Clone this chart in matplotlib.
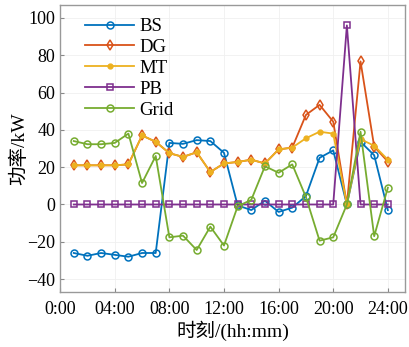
import matplotlib
matplotlib.use("Agg")
import matplotlib.pyplot as plt

hours = list(range(1, 25))
xtick_vals = [0, 4, 8, 12, 16, 20, 24]
xtick_labels = ["0:00", "04:00", "08:00", "12:00", "16:00", "20:00", "24:00"]
ytick_vals = [-40, -20, 0, 20, 40, 60, 80, 100]

BS = [-26, -27.5, -26, -27, -28, -26, -26, 33, 32.5, 34.5, 34, 27.7, -0.5, -3, 2, -4,
      -1.7, 4.5, 25, 29, 0, 33.6, 26.4, -3]
DG = [21, 21, 21, 21, 21.5, 37, 33.6, 27.5, 25.5, 28, 17.4, 22, 22.8, 24, 22, 29.5,
      30.5, 48, 53.4, 44.4, 0, 76.7, 31, 23]
MT = [21, 21, 21, 21, 21.5, 37, 33.6, 27.5, 25.5, 28, 17.4, 22, 22.8, 24, 22, 29.5,
      30.5, 35.5, 39, 38, 0, 35, 31.5, 24]
PB = [0] * 20 + [96] + [0] * 3
Grid = [34, 32.3, 32.3, 33, 38, 11.5, 26, -17.6, -16.7, -24.4, -11.9, -22, -1, 2.5,
        20.5, 17, 21.5, 4, -19.4, -17.6, 0, 39, -17, 9]

plt.rcParams['font.family'] = ['Liberation Serif', 'Noto Sans CJK SC']
plt.rcParams['axes.unicode_minus'] = True

fig = plt.figure(figsize=(4.09, 3.47), dpi=100)
ax = fig.add_axes([0.147, 0.158, 0.843, 0.828])

lw = 1.3
ax.plot(hours, BS, color='#0072BD', marker='o', ms=5, mfc='none', mew=1.1, lw=lw, label='BS')
ax.plot(hours, DG, color='#D95319', marker='d', ms=5.5, mfc='none', mew=1.1, lw=lw, label='DG')
ax.plot(hours, MT, color='#EDB120', marker='.', ms=7, lw=lw, label='MT')
ax.plot(hours, PB, color='#7E2F8E', marker='s', ms=4, mfc='none', mew=1.1, lw=lw, label='PB')
ax.plot(hours, Grid, color='#77AC30', marker='o', ms=5, mfc='none', mew=1.1, lw=lw, label='Grid')

ax.set_xlim(0, 25.25)
ax.set_ylim(-47, 107)
ax.set_xticks(xtick_vals)
ax.set_xticklabels(xtick_labels)
ax.set_yticks(ytick_vals)
ax.tick_params(direction='in', labelsize=13, color='#888888', length=3)
ax.tick_params(axis='x', pad=6)
for s in ax.spines.values():
    s.set_color('#999999')
    s.set_linewidth(1.0)
ax.grid(True, color='#f0f0f0', lw=0.6)
ax.set_axisbelow(True)

ax.set_xlabel('时刻/(hh:mm)', fontsize=14, labelpad=2)
ax.set_ylabel('功率/kW', fontsize=14, labelpad=-1)

leg = ax.legend(loc='upper left', frameon=False, fontsize=13.5, handlelength=2.6,
                handletextpad=0.3, labelspacing=0.2, borderaxespad=0.3,
                bbox_to_anchor=(0.035, 1.0))

fig.savefig('out.png', dpi=100)
